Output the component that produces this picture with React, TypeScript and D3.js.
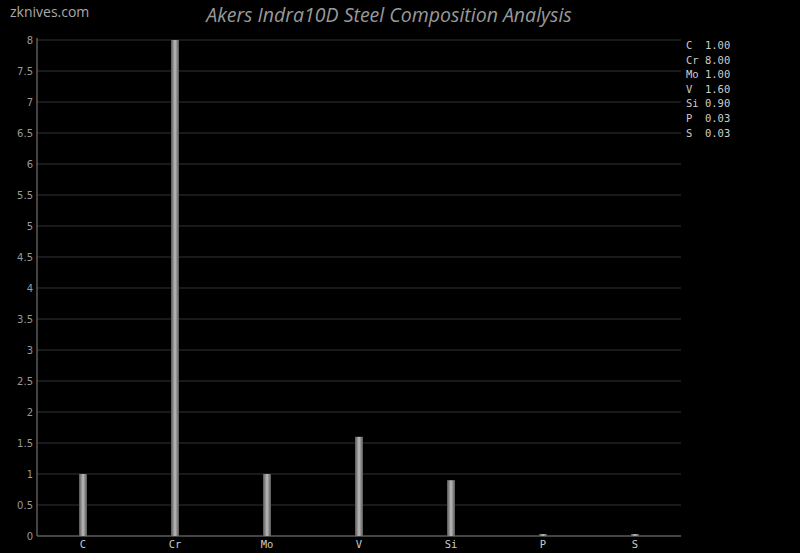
import React from "react";
import * as d3 from "d3";

const categories = ["C", "Cr", "Mo", "V", "Si", "P", "S"];
const values = [1.0, 8.0, 1.0, 1.6, 0.9, 0.03, 0.03];
const yTicks = [0, 0.5, 1, 1.5, 2, 2.5, 3, 3.5, 4, 4.5, 5, 5.5, 6, 6.5, 7, 7.5, 8];
const title = "Akers Indra10D Steel Composition Analysis";
const site = "zknives.com";

export default function App() {
  const W = 800, H = 553;
  const left = 37, right = 681, top = 40, bottom = 536;
  const x = d3.scaleBand<string>().domain(categories).range([left, right]);
  const y = d3.scaleLinear().domain([0, 8]).range([bottom, top]);
  const bw = 8;
  const mono = "'DejaVu Sans Mono', monospace";
  return (
    <svg width={W} height={H} style={{ position: "absolute", left: 0, top: 0, background: "#000" }}>
      <defs>
        <linearGradient id="barg" x1="0" x2="1" y1="0" y2="0">
          <stop offset="0" stopColor="#555" />
          <stop offset="0.5" stopColor="#bbb" />
          <stop offset="1" stopColor="#555" />
        </linearGradient>
      </defs>
      <rect x={0} y={0} width={W} height={H} fill="#000" />
      <text x={10} y={17} fill="#aaa" fontFamily="'Open Sans', sans-serif" fontSize={14}>{site}</text>
      <text x={389} y={22} textAnchor="middle" fill="#999" fontFamily="'Open Sans', sans-serif" fontStyle="italic" fontSize={19.5}>{title}</text>
      {yTicks.map((t) => (
        <g key={t}>
          {t > 0 && <line x1={left} x2={right} y1={y(t)} y2={y(t)} stroke="#333" strokeWidth={1} />}
          <text x={33} y={y(t) + 4} textAnchor="end" fill="#999" fontFamily="'DejaVu Sans', sans-serif" fontSize={10}>{t}</text>
        </g>
      ))}
      <line x1={left} x2={left} y1={top - 2} y2={bottom} stroke="#888" />
      <line x1={left} x2={right} y1={bottom} y2={bottom} stroke="#888" />
      {categories.map((c, i) => {
        const cx = (x(c) as number) + x.bandwidth() / 2;
        const h = Math.max(bottom - y(values[i]), 2);
        return (
          <g key={c}>
            <rect x={cx - bw / 2} y={bottom - h} width={bw} height={h} fill="url(#barg)" />
            <text x={cx} y={548} textAnchor="middle" fill="#ccc" fontFamily={mono} fontSize={10.5}>{c}</text>
          </g>
        );
      })}
      {categories.map((c, i) => (
        <text key={c} x={686} y={49 + i * 14.6} fill="#ccc" fontFamily={mono} fontSize={10.5} style={{ whiteSpace: "pre" }}>
          {c.padEnd(3, " ") + values[i].toFixed(2)}
        </text>
      ))}
    </svg>
  );
}
